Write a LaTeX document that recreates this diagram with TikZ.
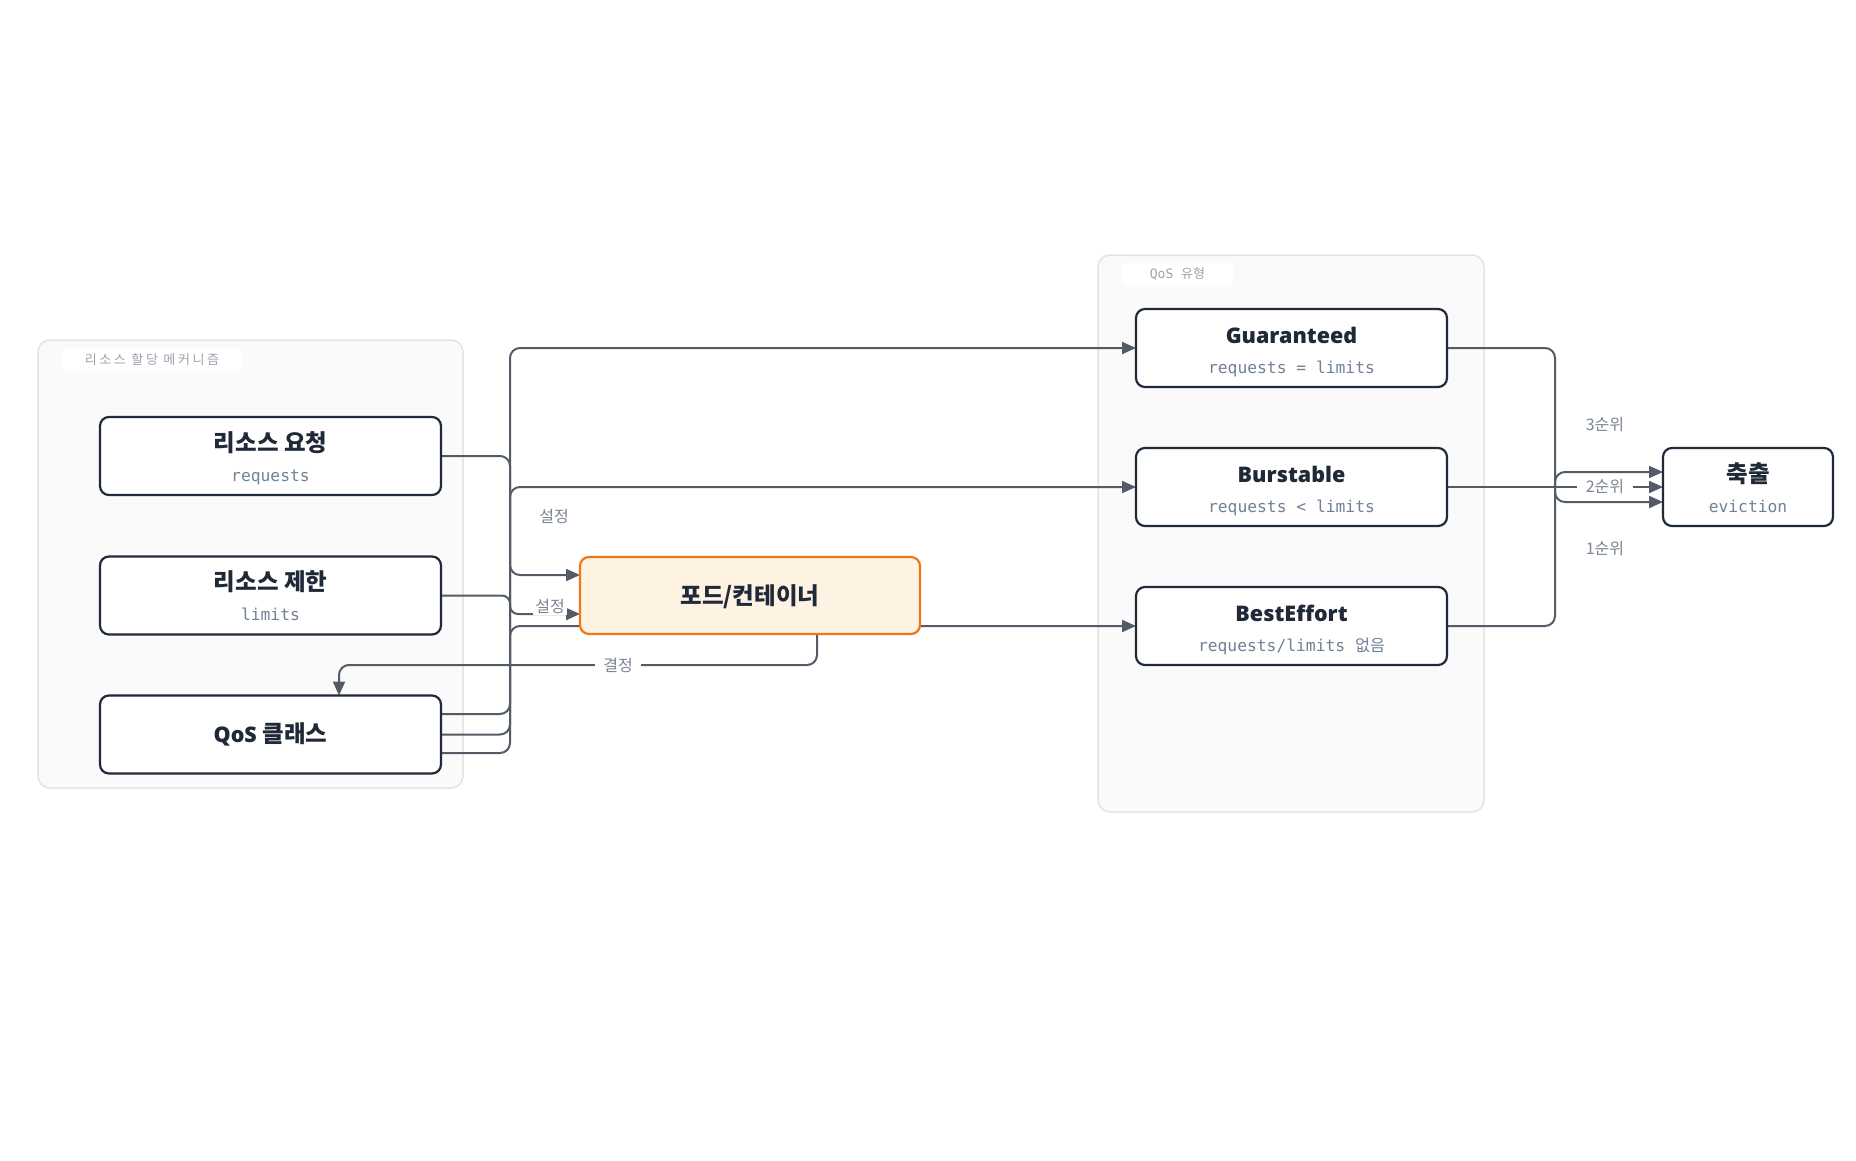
\documentclass[tikz,border=0pt]{standalone}
\usepackage{fontspec}
\setmainfont{Noto Sans}
\setmonofont{DejaVu Sans Mono}
\newfontfamily\kr{Noto Sans CJK KR}
\IfFontExistsTF{Open Sans SemiBold}{\newfontfamily\latb{Open Sans SemiBold}}{%
  \IfFontExistsTF{Noto Sans SemiBold}{\newfontfamily\latb{Noto Sans SemiBold}}{%
    \IfFontExistsTF{Open Sans Bold}{\newfontfamily\latb{Open Sans Bold}}{%
      \newfontfamily\latb{Noto Sans CJK KR}}}}
\usetikzlibrary{arrows.meta,calc}
\definecolor{boxline}{HTML}{1F2A3A}
\definecolor{titlec}{HTML}{1F2937}
\definecolor{subc}{HTML}{718096}
\definecolor{edgec}{HTML}{545B66}
\definecolor{elabc}{HTML}{7B8494}
\definecolor{grpfill}{HTML}{FAFAFA}
\definecolor{grpline}{HTML}{E3E3E3}
\definecolor{grplab}{HTML}{9CA3AF}
\definecolor{podfill}{HTML}{FEF3E2}
\definecolor{podline}{HTML}{EE7518}
\pgfdeclarelayer{groups}
\pgfdeclarelayer{edges}
\pgfsetlayers{groups,edges,main}
\newcommand\krt[1]{{\fontsize{23.5}{27}\selectfont\kr #1}}
\tikzset{
  box/.style={draw=boxline, line width=2.2pt, rounded corners=9pt, fill=white,
    minimum width=341pt, minimum height=78pt, inner sep=0pt, outer sep=0pt},
  podbox/.style={box, draw=podline, fill=podfill, minimum width=340pt, minimum height=77pt},
  qbox/.style={box, minimum width=311pt},
  ebox/.style={box, minimum width=170pt},
  ttl/.style={anchor=base, inner sep=0pt, text=titlec, font=\fontsize{21.5}{25}\selectfont\bfseries},
  subt/.style={anchor=base, inner sep=0pt, text=subc, font=\fontsize{16.3}{20}\selectfont\ttfamily},
  edge/.style={draw=edgec, line width=2pt, rounded corners=10pt, -{Triangle[length=14pt,width=12pt]}},
  elab/.style={text=elabc, font=\fontsize{16}{19}\selectfont\kr, inner xsep=6pt, inner ysep=2pt},
  group/.style={draw=grpline, fill=grpfill, line width=1.5pt, rounded corners=12pt, inner sep=0pt},
  glab/.style={fill=white, rounded corners=3pt, text=grplab, font=\fontsize{13}{15}\selectfont\ttfamily, inner sep=0pt},
}
\begin{document}
\begin{tikzpicture}[x=1pt,y=-1pt]
\useasboundingbox (0,0) rectangle (1856,1160);
\begin{pgfonlayer}{groups}
  \fill[white] (0,0) rectangle (1856,1160);
  \node[group, minimum width=425pt, minimum height=448pt] (g1) at (250.5,564) {};
  \node[glab, minimum width=180pt, minimum height=23pt] (g1l) at (152,359.5)
    {\kr\addfontfeature{LetterSpace=20}리소스 할당 메커니즘};
  \node[group, minimum width=386pt, minimum height=557pt] (g2) at (1291,533.5) {};
  \node[glab, minimum width=111pt, minimum height=22pt] (g2l) at (1177.5,274)
    {QoS {\kr 유형}};
\end{pgfonlayer}

% boxes
\node[box] (req) at (270.5,456) {};
\node[ttl] (req-t) at (270.5,451) {\krt{리소스 요청}};
\node[subt] (req-s) at (270.5,481) {requests};

\node[box] (lim) at (270.5,595.5) {};
\node[ttl] (lim-t) at (270.5,590.5) {\krt{리소스 제한}};
\node[subt] (lim-s) at (270.5,620.5) {limits};

\node[box] (qos) at (270.5,734.5) {};
\node[ttl] (qos-t) at (270.5,742) {{\latb QoS} \krt{클래스}};

\node[podbox] (pod) at (750,595.5) {};
\node[ttl] (pod-t) at (750,604) {\krt{포드/컨테이너}};

\node[qbox] (gua) at (1291.5,348) {};
\node[ttl] (gua-t) at (1291.5,343) {\latb Guaranteed};
\node[subt] (gua-s) at (1291.5,373) {requests = limits};

\node[qbox] (bur) at (1291.5,487) {};
\node[ttl] (bur-t) at (1291.5,482) {\latb Burstable};
\node[subt] (bur-s) at (1291.5,512) {requests < limits};

\node[qbox] (bes) at (1291.5,626) {};
\node[ttl] (bes-t) at (1291.5,621) {\latb BestEffort};
\node[subt] (bes-s) at (1291.5,651) {requests/limits {\kr 없음}};

\node[ebox] (evi) at (1748,487) {};
\node[ttl] (evi-t) at (1748,482) {\krt{축출}};
\node[subt] (evi-s) at (1748,512) {eviction};

\begin{pgfonlayer}{edges}
  \draw[edge] (req.east) -- (510,456) -- (510,575) -- ($(pod.west)+(0,-20.5)$);
  \draw[edge, rounded corners=8pt] (lim.east) -- (510,595.5) -- (510,614) -- ($(pod.west)+(0,18.5)$);
  \draw[edge] ($(qos.east)+(0,-20.5)$) -- (510,714) -- (510,348) -- (gua.west);
  \draw[edge] (qos.east) -- (510,734.5) -- (510,487) -- (bur.west);
  \draw[edge] ($(qos.east)+(0,18.5)$) -- (510,753) -- (510,626) -- (bes.west);
  \draw[edge] ($(pod.south)+(67,0)$) -- (817,665) -- (339,665) -- ($(qos.north)+(68.5,0)$);
  \draw[edge] (gua.east) -- (1555,348) -- (1555,502) -- ($(evi.west)+(0,15)$);
  \draw[edge] (bur.east) -- (evi.west);
  \draw[edge] (bes.east) -- (1555,626) -- (1555,472) -- ($(evi.west)+(0,-15)$);
  \node[elab] (l1) at (554,516) {설정};
  \node[elab, fill=white, inner xsep=2pt] (l2) at (550,606) {설정};
  \node[elab, fill=white, inner xsep=8pt] (l3) at (618,665) {결정};
  \node[elab] (l4) at (1605,425) {3순위};
  \node[elab, fill=white, inner xsep=9pt] (l5) at (1605,487) {2순위};
  \node[elab] (l6) at (1605,549) {1순위};
\end{pgfonlayer}
\end{tikzpicture}
\end{document}
